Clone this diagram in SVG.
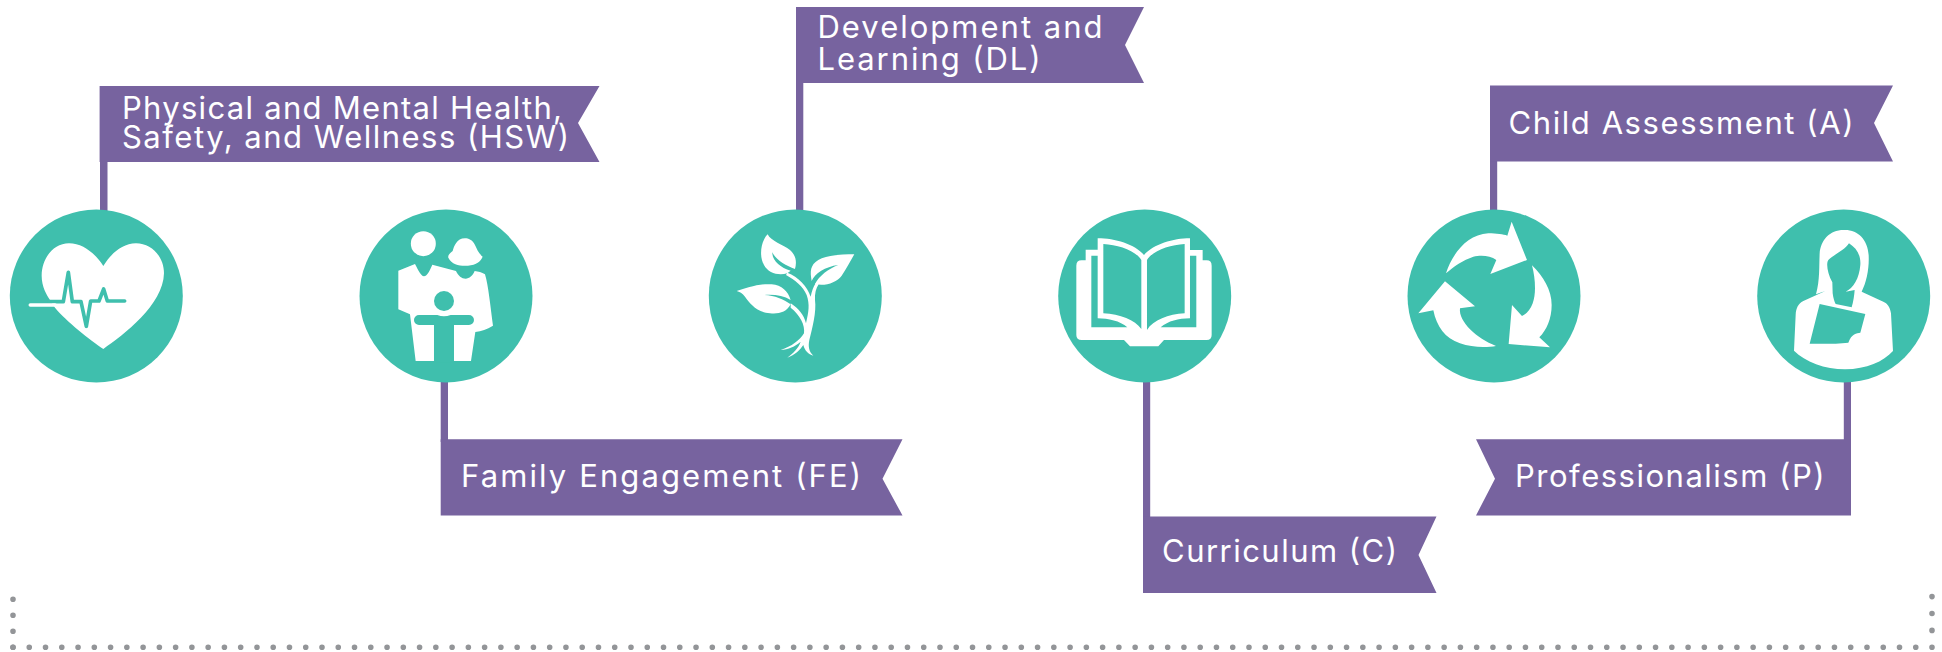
<svg xmlns="http://www.w3.org/2000/svg" width="1942" height="652" viewBox="0 0 1942 652">
<style>
.disc{fill:#3fbfad}
.w{fill:#fff}
.t{fill:#3fbfad}
.ban{fill:#77639f}
.pole{fill:#77639f}
.lbl{font-family:"Inter","Liberation Sans",sans-serif;font-size:31px;font-weight:400;fill:#fff}
.dots{fill:none;stroke:#939598;stroke-width:5.6;stroke-linecap:round}
</style>
<rect width="1942" height="652" fill="#fff"/>
<g id="connectors">
<rect class="pole" x="100" y="160" width="7.5" height="54"/>
<rect class="pole" x="440.7" y="378" width="7.3" height="64"/>
<rect class="pole" x="796" y="80" width="7.3" height="134"/>
<rect class="pole" x="1143" y="378" width="7.2" height="142"/>
<rect class="pole" x="1490" y="158" width="7.2" height="56"/>
<rect class="pole" x="1843.8" y="378" width="7.2" height="64"/>
</g>
<g id="node-hsw">
<polygon class="ban" points="99.6,86 599.5,86 578,123 599.5,162 99.6,162"/>
<text class="lbl" x="122" y="118.5" textLength="440" lengthAdjust="spacing">Physical and Mental Health,</text>
<text class="lbl" x="122" y="148" textLength="447" lengthAdjust="spacing">Safety, and Wellness (HSW)</text>
<circle class="disc" cx="96.3" cy="296" r="86.5"/>
<g transform="translate(0 205) scale(.3333)">
<path class="w" d="M310 183C288 148 250 115 207 115C160 115 125 160 125 212C125 245 140 270 150 285L165 308C200 350 270 405 310 432C370 390 490 300 492 205C492 155 455 115 408 115C365 115 330 150 310 183Z"/>
<path d="M148 290H190L205 202L217 290H243L259 364L272 288H297L311 252L322 288H374" fill="none" stroke="#3fbfad" stroke-width="11" stroke-linecap="round" stroke-linejoin="round"/>
<path d="M91 300H165" fill="none" stroke="#fff" stroke-width="11" stroke-linecap="round"/>
</g>
</g>
<g id="node-fe">
<polygon class="ban" points="440.7,439.3 902.5,439.3 882.5,478.7 902.5,515.5 440.7,515.5"/>
<text class="lbl" x="461" y="486.7" textLength="400" lengthAdjust="spacing">Family Engagement (FE)</text>
<circle class="disc" cx="446" cy="296" r="86.5"/>
<g transform="translate(350 205) scale(.3333)">
<circle class="w" cx="220" cy="116" r="37.5"/>
<path class="w" d="M345 100C320 100 312 125 308 138C300 145 293 150 295 158C305 178 325 182 345 182C370 182 390 175 398 155C385 145 380 130 375 120C368 105 355 100 345 100Z"/>
<path class="w" d="M145 197L195 177C205 195 212 213 222 214C232 213 240 195 247 179L318 198C325 213 335 221 347 221C358 221 368 212 374 198C385 199 395 202 405 208C415 240 422 310 429 362C410 373 395 378 376 381L363 468H197L180 328L145 313Z"/>
<circle class="t" cx="282" cy="288" r="30"/>
<path class="t" d="M207 330H262Q282 338 302 330H357A15 15 0 0 1 357 360H312V472H252V360H207A15 15 0 0 1 207 330Z"/>
</g>
</g>
<g id="node-dl">
<polygon class="ban" points="796,7 1144,7 1125,45 1144,83 796,83"/>
<text class="lbl" x="817.5" y="38" textLength="285" lengthAdjust="spacing">Development and</text>
<text class="lbl" x="817.5" y="70" textLength="223" lengthAdjust="spacing">Learning (DL)</text>
<circle class="disc" cx="795.3" cy="296" r="86.5"/>
<g transform="translate(700 205) scale(.3333)" class="w">
<path d="M203 88C212 108 250 120 270 135C290 152 290 175 285 192C258 182 228 165 217 142C216 165 240 188 272 197L262 205C235 212 205 205 192 180C175 150 185 105 203 88Z"/>
<path d="M463 148C430 148 380 150 355 165C330 180 330 200 335 228C345 205 375 185 415 180C385 192 358 212 345 237C375 245 410 232 425 212C440 190 450 170 463 148Z"/>
<path d="M110 258C140 250 175 235 215 238C245 240 265 260 272 285C250 272 225 268 193 270C225 272 250 282 272 298C260 322 235 328 210 325C170 322 150 295 135 275C128 265 118 260 110 258Z"/>
<path d="M262 203C295 215 322 245 332 275C336 258 340 245 347 235L356 238C348 250 344 265 345 285C350 320 337 370 328 405C324 425 327 440 340 452C325 448 315 438 310 420C300 435 285 450 262 458C280 445 295 430 302 410C285 425 265 433 242 435C275 425 300 405 312 385C316 360 300 330 272 308L272 295C295 310 312 330 318 355C326 320 330 300 320 270C310 245 285 225 258 210Z"/>
</g>
</g>
<g id="node-c">
<polygon class="ban" points="1143,516.5 1436.5,516.5 1418.5,555 1436.5,593 1143,593"/>
<text class="lbl" x="1162" y="562" textLength="235" lengthAdjust="spacing">Curriculum (C)</text>
<circle class="disc" cx="1144.7" cy="296" r="86.5"/>
<g transform="translate(1050 205) scale(.3333)">
<path class="w" d="M143 100C195 100 255 118 282 150C310 118 370 100 420 100V135H458V166H470Q485 166 485 182V390Q485 405 470 405H342L325 424H240L222 405H95Q79 405 79 390V182Q79 166 95 166H107V134H143Z"/>
<path class="t" d="M160 117C205 120 255 135 274 165V372C255 345 210 328 160 325Z"/>
<path class="t" d="M291 165C310 135 360 120 404 117V325C355 328 310 345 291 375Z"/>
<path class="t" d="M124 152H143V340C175 340 210 348 232 367H124Z"/>
<path class="t" d="M420 152H439V367H332C355 348 385 340 420 340Z"/>
</g>
</g>
<g id="node-a">
<polygon class="ban" points="1490,85.5 1893,85.5 1874,123 1893,161.5 1490,161.5"/>
<text class="lbl" x="1508.5" y="134" textLength="345" lengthAdjust="spacing">Child Assessment (A)</text>
<circle class="disc" cx="1494" cy="296" r="86.5"/>
<g transform="translate(1400 205) scale(.3333)" class="w">
<path d="M138 205C155 150 200 88 265 85C290 85 310 88 322 92L335 50L381 165L271 207L289 165C270 150 240 150 220 155C190 165 160 185 138 205Z"/>
<path d="M396 181C430 215 455 255 455 300C455 340 440 375 418 397L450 427L326 417L336 300L366 333C395 320 405 285 405 250C405 225 402 205 396 181Z"/>
<path d="M135 229L225 304L180 310C175 350 230 400 288 423C260 428 215 428 180 415C135 400 110 365 100 316L55 325Z"/>
</g>
</g>
<g id="node-p">
<polygon class="ban" points="1476,439.3 1851,439.3 1851,515.5 1476,515.5 1495,478.7"/>
<text class="lbl" x="1515" y="486.7" textLength="309.5" lengthAdjust="spacing">Professionalism (P)</text>
<circle class="disc" cx="1843.7" cy="296" r="86.5"/>
<g transform="translate(1750 205) scale(.3333)">
<path class="w" d="M285 75C240 73 212 105 209 145C207 185 210 225 198 268L226 258L160 288C145 295 138 310 137 330L132 437C165 470 225 493 285 493C350 492 400 470 429 438L423 325C420 305 412 295 400 290L335 260C350 230 358 190 356 150C353 105 325 75 285 75Z"/>
<path class="t" d="M297 115C285 135 250 150 235 165C228 175 232 205 247 232L248 265C250 280 253 290 257 297L305 307C310 290 313 270 314 255L287 260C310 250 328 220 331 180C333 150 320 130 297 115Z"/>
<path class="t" d="M209 297L346 327L331 383C320 385 305 385 295 413C260 417 215 417 179 416Z"/>
</g>
</g>
<g id="dotted-frame">
<path class="dots" stroke-dasharray="0 16.03" d="M13 599.2V647.3"/>
<path class="dots" stroke-dasharray="0 16.263" d="M13 647.3H1932"/>
<path class="dots" stroke-dasharray="0 16.9" d="M1932 647.3V596.6"/>
</g>
</svg>
